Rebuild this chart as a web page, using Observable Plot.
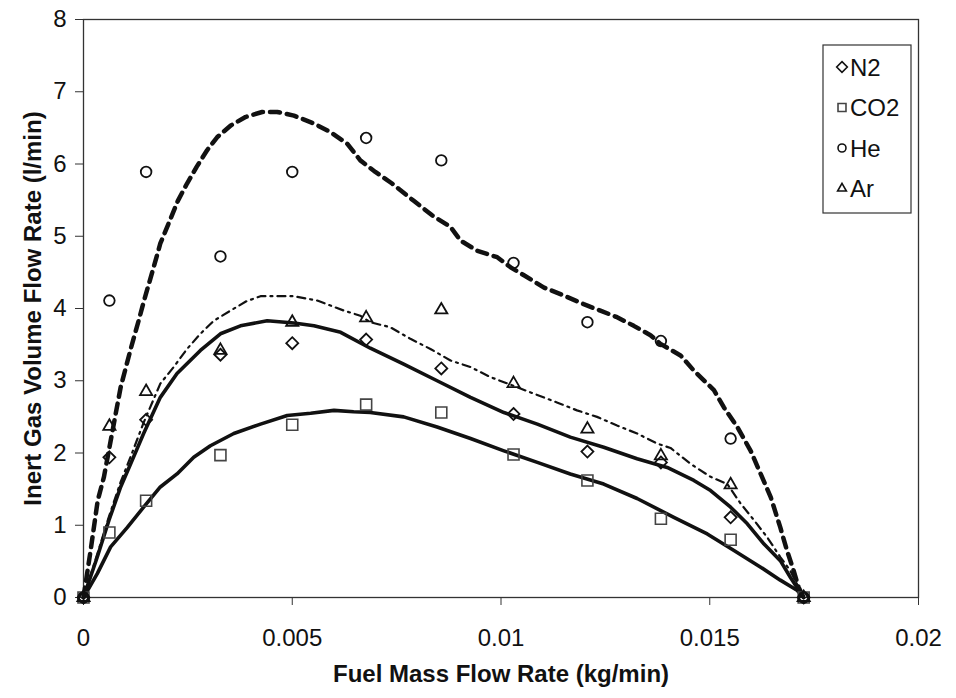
<!DOCTYPE html>
<html><head><meta charset="utf-8">
<script src="https://cdn.jsdelivr.net/npm/d3@7"></script>
<script src="https://cdn.jsdelivr.net/npm/@observablehq/plot@0.6"></script>
<style>
html,body{margin:0;padding:0;background:#fff;}
#chart{position:relative;width:956px;height:698px;}
</style></head><body><div id="chart"></div>
<script>
// ---------- data ----------
const gases = ["N2", "CO2", "He", "Ar"];
const fuelRate = [0, 0.00062, 0.0015, 0.00328, 0.005, 0.00677, 0.00857, 0.0103, 0.01207, 0.01383, 0.0155, 0.01725];
const n2Measured  = [0, 1.94, 2.46, 3.36, 3.52, 3.57, 3.17, 2.54, 2.02, 1.87, 1.11, 0];
const co2Measured = [0, 0.90, 1.34, 1.97, 2.39, 2.67, 2.56, 1.98, 1.62, 1.09, 0.80, 0];
const heMeasured  = [0, 4.11, 5.89, 4.72, 5.89, 6.36, 6.05, 4.63, 3.81, 3.55, 2.20, 0];
const arMeasured  = [0, 2.37, 2.85, 3.42, 3.81, 3.87, 3.98, 2.96, 2.33, 1.96, 1.56, 0];

const heFitX = [0, 0.00017, 0.00034, 0.00049, 0.00077, 0.00089, 0.00114, 0.00132, 0.00145, 0.00168, 0.00184, 0.00207, 0.00226, 0.00248, 0.00271, 0.00296, 0.0032, 0.00352, 0.00388, 0.00428, 0.00464, 0.00504, 0.00552, 0.00592, 0.00632, 0.00663, 0.00699, 0.00739, 0.00791, 0.00835, 0.00879, 0.00903, 0.00943, 0.00991, 0.01023, 0.01055, 0.01103, 0.0115, 0.01198, 0.01238, 0.01278, 0.01318, 0.01358, 0.01382, 0.0143, 0.01462, 0.0151, 0.01534, 0.01566, 0.01598, 0.01622, 0.01646, 0.01669, 0.01685, 0.01701, 0.01713, 0.01725];
const heFitY = [0, 0.65, 1.34, 1.67, 2.54, 2.91, 3.46, 3.83, 4.11, 4.57, 4.90, 5.22, 5.49, 5.73, 5.96, 6.19, 6.37, 6.53, 6.65, 6.72, 6.72, 6.67, 6.56, 6.44, 6.28, 6.05, 5.89, 5.73, 5.49, 5.29, 5.13, 4.94, 4.80, 4.71, 4.57, 4.46, 4.29, 4.18, 4.06, 3.97, 3.88, 3.76, 3.63, 3.51, 3.35, 3.14, 2.87, 2.63, 2.36, 2.03, 1.71, 1.39, 0.97, 0.65, 0.37, 0.14, 0];

const arFitX = [0, 0.00033, 0.00061, 0.00089, 0.00113, 0.00144, 0.00184, 0.00216, 0.00248, 0.0028, 0.00312, 0.00352, 0.0039, 0.00424, 0.00504, 0.0056, 0.00624, 0.00663, 0.00687, 0.00735, 0.00783, 0.00831, 0.00879, 0.00927, 0.00975, 0.0103, 0.01079, 0.01134, 0.01182, 0.0123, 0.01278, 0.01326, 0.01374, 0.01406, 0.01454, 0.01502, 0.01542, 0.01574, 0.01606, 0.01638, 0.01669, 0.01693, 0.01725];
const arFitY = [0, 0.60, 1.12, 1.60, 1.95, 2.42, 2.96, 3.19, 3.44, 3.65, 3.83, 3.97, 4.10, 4.17, 4.17, 4.11, 3.97, 3.90, 3.81, 3.74, 3.58, 3.44, 3.28, 3.19, 3.05, 2.93, 2.82, 2.70, 2.59, 2.50, 2.38, 2.27, 2.13, 2.07, 1.85, 1.67, 1.57, 1.30, 1.07, 0.83, 0.56, 0.37, 0];

const n2FitX = [0, 0.00033, 0.00061, 0.00089, 0.00113, 0.00144, 0.00184, 0.00224, 0.0028, 0.00328, 0.00376, 0.0044, 0.00504, 0.00552, 0.00616, 0.00687, 0.00767, 0.00847, 0.00927, 0.01007, 0.01087, 0.01166, 0.01246, 0.01326, 0.01398, 0.01462, 0.01502, 0.0155, 0.0159, 0.0163, 0.01669, 0.01693, 0.01709, 0.01725];
const n2FitY = [0, 0.56, 1.07, 1.53, 1.85, 2.27, 2.77, 3.10, 3.42, 3.65, 3.76, 3.83, 3.80, 3.76, 3.67, 3.45, 3.23, 3.00, 2.77, 2.56, 2.40, 2.22, 2.08, 1.92, 1.80, 1.62, 1.48, 1.25, 1.02, 0.74, 0.51, 0.28, 0.14, 0];

const co2FitX = [0, 0.00033, 0.00065, 0.00105, 0.00144, 0.00184, 0.00224, 0.00264, 0.00304, 0.0036, 0.00424, 0.00488, 0.00544, 0.006, 0.00647, 0.00687, 0.00767, 0.00847, 0.00927, 0.01007, 0.01087, 0.01166, 0.01246, 0.01326, 0.01414, 0.01494, 0.01558, 0.01622, 0.01669, 0.01709, 0.01725];
const co2FitY = [0, 0.33, 0.70, 0.97, 1.25, 1.53, 1.71, 1.94, 2.10, 2.27, 2.40, 2.52, 2.55, 2.59, 2.57, 2.56, 2.50, 2.36, 2.20, 2.03, 1.87, 1.71, 1.57, 1.37, 1.11, 0.88, 0.65, 0.42, 0.24, 0.10, 0];

const xTicks = [0, 0.005, 0.01, 0.015, 0.02];
const xTickLabels = ["0", "0.005", "0.01", "0.015", "0.02"];
const yTicks = [0, 1, 2, 3, 4, 5, 6, 7, 8];
const yTickLabels = ["0", "1", "2", "3", "4", "5", "6", "7", "8"];
const xTitle = "Fuel Mass Flow Rate (kg/min)";
const yTitle = "Inert Gas Volume Flow Rate (l/min)";

// ---------- build tables ----------
const measured = {N2: n2Measured, CO2: co2Measured, He: heMeasured, Ar: arMeasured};
const points = [];
gases.forEach(g => fuelRate.forEach((x, i) => points.push({gas: g, x, y: measured[g][i]})));
const toRows = (xs, ys) => xs.map((x, i) => ({x, y: ys[i]}));
const heFit = toRows(heFitX, heFitY);
const arFit = toRows(arFitX, arFitY);
const n2Fit = toRows(n2FitX, n2FitY);
const co2Fit = toRows(co2FitX, co2FitY);

const font = '"Liberation Sans", Arial, Helvetica, sans-serif';
const ink = "#111";
const sel = g => points.filter(d => d.gas === g);

const plot = Plot.plot({
  width: 956, height: 698,
  marginLeft: 83, marginRight: 38, marginTop: 19, marginBottom: 101,
  style: {fontFamily: font, fontSize: "24px", color: ink, background: "#fff"},
  x: {domain: [0, 0.02]},
  y: {domain: [0, 8]},
  marks: [
    Plot.axisX(xTicks, {tickFormat: d => xTickLabels[xTicks.indexOf(d)], tickSize: 8, tickPadding: 23, label: null, stroke: "#333"}),
    Plot.axisY(yTicks, {tickFormat: d => yTickLabels[yTicks.indexOf(d)], tickSize: 8, tickPadding: 9, label: null, stroke: "#333"}),
    Plot.frame({stroke: "#333", strokeWidth: 1.3}),
    Plot.line(co2Fit, {x: "x", y: "y", stroke: ink, strokeWidth: 3.6}),
    Plot.line(n2Fit, {x: "x", y: "y", stroke: ink, strokeWidth: 3.6}),
    Plot.line(arFit, {x: "x", y: "y", stroke: ink, strokeWidth: 2.2, strokeDasharray: "8,5,2,5"}),
    Plot.line(heFit, {x: "x", y: "y", stroke: ink, strokeWidth: 4.5, strokeDasharray: "10,7"}),
    Plot.dot(sel("CO2"), {x: "x", y: "y", symbol: "square2", r: 7, stroke: "#444", strokeWidth: 1.6, fill: "none"}),
    Plot.dot(sel("N2"), {x: "x", y: "y", symbol: "diamond2", r: 5.4, stroke: ink, strokeWidth: 1.8, fill: "none"}),
    Plot.dot(sel("He"), {x: "x", y: "y", symbol: "circle", r: 5.3, stroke: ink, strokeWidth: 1.8, fill: "none"}),
    Plot.dot(sel("Ar"), {x: "x", y: "y", symbol: "triangle2", r: 5.8, stroke: ink, strokeWidth: 1.8, fill: "none"}),
    Plot.text([xTitle], {text: d => d, frameAnchor: "bottom", dy: 77, lineAnchor: "middle", textAnchor: "middle", fontWeight: "bold", fontSize: 24, fill: ink}),
    Plot.text([yTitle], {text: d => d, frameAnchor: "left", dx: -50, rotate: -90, lineAnchor: "middle", textAnchor: "middle", fontWeight: "bold", fontSize: 24, fill: ink})
  ]
});

// ---------- legend (inside plot area, top right) ----------
const svg = d3.select(plot);
const lg = svg.append("g").attr("transform", "translate(823,45)").attr("text-anchor", "start");
lg.append("rect").attr("width", 88).attr("height", 168).attr("fill", "#fff").attr("stroke", "#333").attr("stroke-width", 1.2);
const legendSymbols = {N2: [d3.symbolDiamond2, 72], CO2: [d3.symbolSquare2, 81], He: [d3.symbolCircle, 50], Ar: [d3.symbolTriangle2, 55]};
gases.forEach((g, i) => {
  const cy = 22 + i * 40.5;
  const [type, size] = legendSymbols[g];
  lg.append("path").attr("d", d3.symbol(type, size)()).attr("transform", `translate(19,${cy})`)
    .attr("fill", "none").attr("stroke", g === "CO2" ? "#444" : ink).attr("stroke-width", 1.6);
  lg.append("text").attr("x", 27).attr("y", cy).attr("dy", "0.36em").attr("text-anchor", "start")
    .attr("font-size", 24).attr("fill", ink).text(g);
});

document.getElementById("chart").appendChild(plot);
</script>
</body></html>
